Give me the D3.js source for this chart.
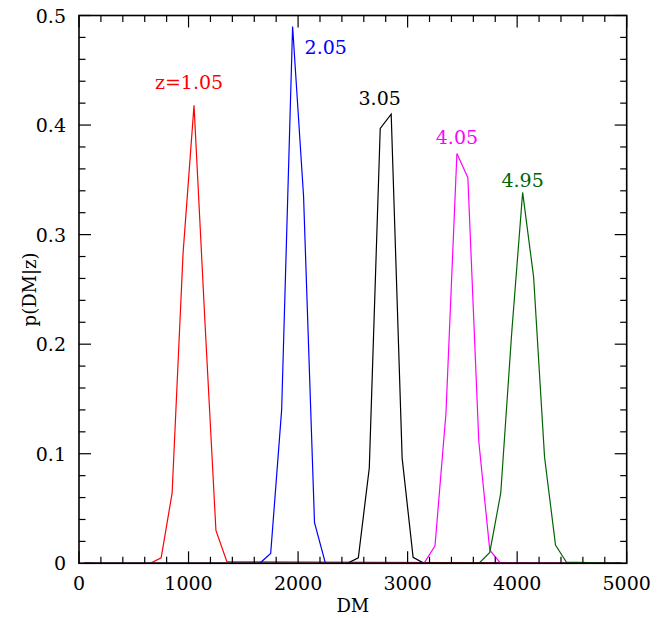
<!DOCTYPE html>
<html>
<head>
<meta charset="utf-8">
<script src="https://cdn.jsdelivr.net/npm/d3@7"></script>
<style>
  html, body { margin: 0; padding: 0; background: #fff; }
  svg { display: block; }
  text { font-family: "DejaVu Serif", "Liberation Serif", serif; }
</style>
</head>
<body>
<svg id="chart" width="667" height="618"></svg>
<script>
// ---- data ----
const dmRed     = [50, 650, 750, 850, 950, 1050, 1150, 1250, 1350, 4950];
const pRed      = [0, 0, 0.005, 0.064, 0.283, 0.418, 0.220, 0.030, 0.0015, 0];
const dmBlue    = [50, 1650, 1750, 1850, 1950, 2050, 2150, 2250, 4950];
const pBlue     = [0, 0, 0.009, 0.140, 0.490, 0.335, 0.037, 0, 0];
const dmBlack   = [50, 2450, 2550, 2650, 2750, 2850, 2950, 3050, 3150, 4950];
const pBlack    = [0, 0, 0.005, 0.087, 0.397, 0.410, 0.096, 0.0055, 0, 0];
const dmMagenta = [50, 3150, 3250, 3350, 3450, 3550, 3650, 3750, 3850, 4950];
const pMagenta  = [0, 0, 0.016, 0.137, 0.374, 0.352, 0.111, 0.012, 0, 0];
const dmGreen   = [50, 3650, 3750, 3850, 3950, 4050, 4150, 4250, 4350, 4450, 4950];
const pGreen    = [0, 0, 0.010, 0.064, 0.210, 0.3385, 0.2615, 0.097, 0.0167, 0.001, 0];

const seriesLabels = ["z=1.05", "2.05", "3.05", "4.05", "4.95"];
const seriesColors = ["#ff0000", "#0000ff", "#000000", "#ff00ff", "#006400"];

const xTickValues = [0, 1000, 2000, 3000, 4000, 5000];
const xTickLabels = ["0", "1000", "2000", "3000", "4000", "5000"];
const yTickValues = [0, 0.1, 0.2, 0.3, 0.4, 0.5];
const yTickLabels = ["0", "0.1", "0.2", "0.3", "0.4", "0.5"];
const xMinorStep = 200;
const yMinorStep = 0.02;

// ---- layout ----
const W = 667, H = 618;
const L = 79, R = 626.7, T = 15.5, B = 563.3;
const svg = d3.select("#chart");

const x = d3.scaleLinear().domain([0, 5000]).range([L, R]);
const y = d3.scaleLinear().domain([0, 0.5]).range([B, T]);

const series = [
  {dm: dmRed, p: pRed},
  {dm: dmBlue, p: pBlue},
  {dm: dmBlack, p: pBlack},
  {dm: dmMagenta, p: pMagenta},
  {dm: dmGreen, p: pGreen}
].map((s, i) => ({
  pts: s.dm.map((d, j) => [d, s.p[j]]),
  color: seriesColors[i],
  label: seriesLabels[i]
}));

// label placement relative to each curve's peak (pixels)
const labelPlace = [
  {dx: -5, dy: -16, anchor: "middle"},
  {dx: 12, dy: 28, anchor: "start"},
  {dx: -11.5, dy: -9, anchor: "middle"},
  {dx: 0, dy: -10, anchor: "middle"},
  {dx: 0, dy: -5.5, anchor: "middle"}
];

// ---- curves ----
const line = d3.line().x(d => x(d[0])).y(d => y(d[1]));
const gCurves = svg.append("g");
series.forEach(s => {
  gCurves.append("path")
    .attr("d", line(s.pts))
    .attr("fill", "none")
    .attr("stroke", s.color)
    .attr("stroke-width", 1.2)
    .attr("stroke-linejoin", "miter");
});

// ---- series labels ----
series.forEach((s, i) => {
  const peak = s.pts.reduce((a, b) => (b[1] > a[1] ? b : a));
  const lp = labelPlace[i];
  svg.append("text")
    .attr("x", x(peak[0]) + lp.dx)
    .attr("y", y(peak[1]) + lp.dy)
    .attr("text-anchor", lp.anchor)
    .attr("font-size", 19)
    .attr("fill", s.color)
    .text(s.label);
});

// ---- frame and ticks (inward, all four sides) ----
const gAx = svg.append("g").attr("stroke", "#000");
const minorLen = 6.5, majorLen = 12;

const xMinor = d3.range(0, 5000 + 1, xMinorStep);
xMinor.forEach(v => {
  const major = xTickValues.includes(v);
  const len = major ? majorLen : minorLen;
  gAx.append("line").attr("x1", x(v)).attr("x2", x(v))
    .attr("y1", B).attr("y2", B - len).attr("stroke-width", 1.2);
  gAx.append("line").attr("x1", x(v)).attr("x2", x(v))
    .attr("y1", T).attr("y2", T + len).attr("stroke-width", 1.2);
});
const yMinor = d3.range(0, 25 + 1).map(k => +(k * yMinorStep).toFixed(2));
yMinor.forEach(v => {
  const major = yTickValues.some(t => Math.abs(t - v) < 1e-9);
  const len = major ? majorLen : minorLen;
  gAx.append("line").attr("x1", L).attr("x2", L + len)
    .attr("y1", y(v)).attr("y2", y(v)).attr("stroke-width", 1.2);
  gAx.append("line").attr("x1", R).attr("x2", R - len)
    .attr("y1", y(v)).attr("y2", y(v)).attr("stroke-width", 1.2);
});

svg.append("rect")
  .attr("x", L).attr("y", T)
  .attr("width", R - L).attr("height", B - T)
  .attr("fill", "none").attr("stroke", "#000").attr("stroke-width", 1.6);

// ---- tick labels ----
xTickValues.forEach((v, i) => {
  svg.append("text")
    .attr("x", x(v)).attr("y", 589.5)
    .attr("text-anchor", "middle")
    .attr("font-size", 19)
    .text(xTickLabels[i]);
});
yTickValues.forEach((v, i) => {
  svg.append("text")
    .attr("x", 66).attr("y", y(v) + 7)
    .attr("text-anchor", "end")
    .attr("font-size", 19)
    .text(yTickLabels[i]);
});

// ---- axis titles ----
svg.append("text")
  .attr("x", (L + R) / 2).attr("y", 612)
  .attr("text-anchor", "middle")
  .attr("font-size", 18)
  .text("DM");
svg.append("text")
  .attr("transform", `translate(36,${(T + B) / 2}) rotate(-90)`)
  .attr("text-anchor", "middle")
  .attr("font-size", 18)
  .text("p(DM|z)");
</script>
</body>
</html>
